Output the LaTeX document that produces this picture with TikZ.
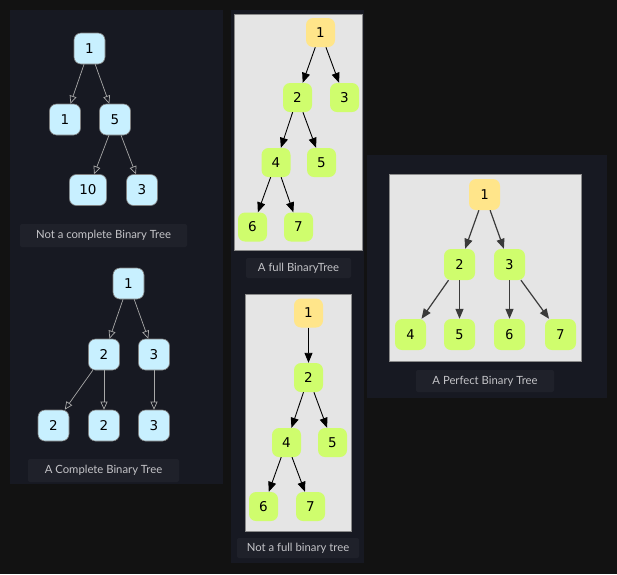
\documentclass[tikz,border=0pt]{standalone}
\usepackage{fontspec}
\setmainfont{DejaVu Sans}
\newfontfamily\labelfont{Lato}
\newfontfamily\monofont{DejaVu Sans Mono}
\usetikzlibrary{arrows.meta}
\definecolor{bgc}{HTML}{121212}
\definecolor{panelc}{HTML}{171922}
\definecolor{lboxc}{HTML}{1F212A}
\definecolor{ltextc}{HTML}{C4C4C8}
\definecolor{cyanc}{HTML}{C8F0FF}
\definecolor{cyanb}{HTML}{808080}
\definecolor{grayboxc}{HTML}{E5E5E5}
\definecolor{grayboxb}{HTML}{8A8A8A}
\definecolor{yelc}{HTML}{FFE58A}
\definecolor{grnc}{HTML}{CFFD6D}
\definecolor{edgel}{HTML}{A8A8A8}
\definecolor{edger}{HTML}{3A3A3A}
\tikzset{
  panel/.style={fill=panelc, draw=none},
  lbox/.style={fill=lboxc, draw=none, rounded corners=2pt},
  ltext/.style={text=ltextc, font=\labelfont\fontsize{11.3}{13}\selectfont, inner sep=0pt},
  grayfrm/.style={fill=grayboxc, draw=grayboxb, line width=0.8pt},
  cnode/.style={fill=cyanc, draw=cyanb, line width=0.6pt, rounded corners=7pt,
    minimum width=31pt, minimum height=31pt, inner xsep=10pt, font=\fontsize{13.5}{15}\selectfont, text=black},
  gnode/.style={fill=grnc, draw=none, rounded corners=7pt,
    minimum width=29pt, minimum height=29pt, font=\fontsize{13.5}{15}\selectfont, text=black},
  ynode/.style={gnode, fill=yelc},
  rgnode/.style={gnode, minimum width=31pt, minimum height=31pt, font=\monofont\fontsize{13.5}{15}\selectfont},
  rynode/.style={rgnode, fill=yelc},
  ledge/.style={draw=edgel, line width=0.7pt, -{Triangle[open, length=8pt, width=7pt]}},
  medge/.style={draw=black, line width=0.9pt, -{Triangle[length=10pt, width=8pt]}},
  redge/.style={draw=edger, line width=1.2pt, -{Triangle[length=10pt, width=8pt]}},
}
\begin{document}
\begin{tikzpicture}[x=1pt, y=-1pt]
\useasboundingbox (0,0) rectangle (617,574);
\fill[bgc] (0,0) rectangle (617,574);
% panels
\fill[panel] (10,10) rectangle (223,484);
\fill[panel] (231,10) rectangle (364,563);
\fill[panel] (367,155) rectangle (607,398);
% label boxes
\fill[lbox] (20,224) rectangle (187,247);
\node[ltext] (lab1) at (103.5,235.5) {Not a complete Binary Tree};
\fill[lbox] (28,459) rectangle (179,482);
\node[ltext] (lab2) at (103.5,470.5) {A Complete Binary Tree};
\fill[lbox] (246,258) rectangle (351,278);
\node[ltext] (lab3) at (298.5,268) {A full BinaryTree};
\fill[lbox] (237,538) rectangle (359,558);
\node[ltext] (lab4) at (298,548) {Not a full binary tree};
\fill[lbox] (416,370) rectangle (554,392);
\node[ltext] (lab5) at (485,381) {A Perfect Binary Tree};
% gray frames
\draw[grayfrm] (234,14) rectangle (362,250);
\draw[grayfrm] (245.5,294) rectangle (351,531);
\draw[grayfrm] (389,174) rectangle (581,361);
% tree A: not complete
\node[cnode] (a1) at (89.5,48.5) {1};
\node[cnode] (a2) at (65,119.5) {1};
\node[cnode] (a3) at (115,119.5) {5};
\node[cnode] (a4) at (88,190) {10};
\node[cnode] (a5) at (142,190) {3};
\draw[ledge] (a1) -- (a2);
\draw[ledge] (a1) -- (a3);
\draw[ledge] (a3) -- (a4);
\draw[ledge] (a3) -- (a5);
% tree B: complete
\node[cnode] (b1) at (128.5,283.5) {1};
\node[cnode] (b2) at (104,354.5) {2};
\node[cnode] (b3) at (154,354.5) {3};
\node[cnode] (b4) at (53.5,425.5) {2};
\node[cnode] (b5) at (104,425.5) {2};
\node[cnode] (b6) at (154,425.5) {3};
\draw[ledge] (b1) -- (b2);
\draw[ledge] (b1) -- (b3);
\draw[ledge] (b2) -- (b4);
\draw[ledge] (b2) -- (b5);
\draw[ledge] (b3) -- (b6);
% tree C: full
\node[ynode] (c1) at (320.5,32.5) {1};
\node[gnode] (c2) at (297.5,97.5) {2};
\node[gnode] (c3) at (344.5,97.5) {3};
\node[gnode] (c4) at (276,162.5) {4};
\node[gnode] (c5) at (321.5,162.5) {5};
\node[gnode] (c6) at (252.5,227) {6};
\node[gnode] (c7) at (298.5,227) {7};
\draw[medge] (c1) -- (c2);
\draw[medge] (c1) -- (c3);
\draw[medge] (c2) -- (c4);
\draw[medge] (c2) -- (c5);
\draw[medge] (c4) -- (c6);
\draw[medge] (c4) -- (c7);
% tree D: not full
\node[ynode] (d1) at (308.5,313) {1};
\node[gnode] (d2) at (308.5,377.5) {2};
\node[gnode] (d4) at (286.5,442.5) {4};
\node[gnode] (d5) at (332.5,442.5) {5};
\node[gnode] (d6) at (263.5,506.5) {6};
\node[gnode] (d7) at (310.5,506.5) {7};
\draw[medge] (d1) -- (d2);
\draw[medge] (d2) -- (d4);
\draw[medge] (d2) -- (d5);
\draw[medge] (d4) -- (d6);
\draw[medge] (d4) -- (d7);
% tree E: perfect
\node[rynode] (e1) at (484.5,194.5) {1};
\node[rgnode] (e2) at (459.5,264.5) {2};
\node[rgnode] (e3) at (509.5,264.5) {3};
\node[rgnode] (e4) at (410.5,334.5) {4};
\node[rgnode] (e5) at (459.5,334.5) {5};
\node[rgnode] (e6) at (509.5,334.5) {6};
\node[rgnode] (e7) at (560.5,334.5) {7};
\draw[redge] (e1) -- (e2);
\draw[redge] (e1) -- (e3);
\draw[redge] (e2) -- (e4);
\draw[redge] (e2) -- (e5);
\draw[redge] (e3) -- (e6);
\draw[redge] (e3) -- (e7);
\end{tikzpicture}
\end{document}
